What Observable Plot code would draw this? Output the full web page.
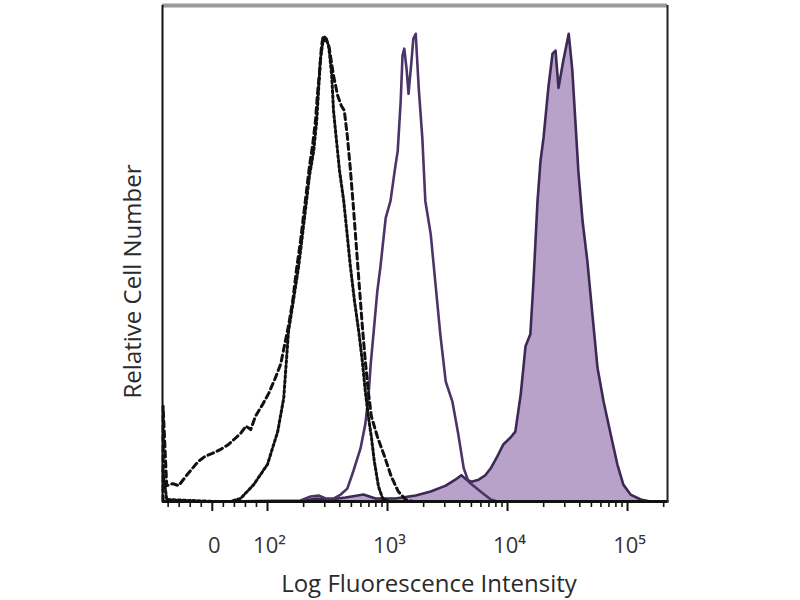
<!DOCTYPE html>
<html>
<head>
<meta charset="utf-8">
<script src="https://cdn.jsdelivr.net/npm/d3@7"></script>
<script src="https://cdn.jsdelivr.net/npm/@observablehq/plot@0.6"></script>
<style>
  html, body { margin: 0; padding: 0; background: #fff; }
  #chart { width: 800px; height: 600px; }
</style>
</head>
<body>
<div id="chart"></div>
<script>
// x values are axis positions in decades (log10 of intensity; linear below 10^2), y = % of max count
const dashedPos = [1.13,1.13,1.16,1.21,1.26,1.32,1.375,1.425,1.48,1.54,1.61,1.675,1.73,1.775,1.82,1.86,1.90,1.96,2.01,2.06,2.11,2.14,2.175,2.21,2.24,2.275,2.30,2.325,2.35,2.375,2.40,2.415,2.435,2.45,2.465,2.49,2.515,2.55,2.585,2.615,2.64,2.665,2.69,2.715,2.74,2.765,2.79,2.815,2.84,2.865,2.915,2.975,3.03,3.09,3.15,3.21,3.4];
const dashedCount = [0,19.2,3.2,3.6,3.2,5.1,6.7,8.1,9.1,9.7,10.5,11.5,12.7,13.7,15.2,14.5,17.2,19.6,21.8,24.6,27.7,31.3,35.4,40.4,46.5,52.5,57.6,62.6,67.7,71.7,76.8,81.8,86.9,91.9,93.9,93.3,91.3,85.9,81.8,79.8,78.8,73.7,67.1,59.6,51.5,43.4,35.4,28.3,22.2,17.2,13.1,9.1,5.1,2.0,0.4,0,0];

const dottedPos = [1.13,1.16,1.36,1.57,1.69,1.775,1.885,2.0,2.085,2.135,2.175,2.215,2.26,2.29,2.325,2.35,2.385,2.41,2.425,2.44,2.46,2.485,2.51,2.535,2.55,2.575,2.60,2.635,2.665,2.69,2.725,2.76,2.79,2.815,2.84,2.865,2.89,2.925,2.96,3.01,3.3];
const dottedCount = [6.1,0.4,0.2,0,0,0.6,3.4,7.5,14.1,20.8,34.3,40.4,47.5,53.5,60.6,65.7,70.7,76.8,82.8,88.9,92.5,93.3,91.9,85.9,78.8,72.7,66.7,60.6,53.5,47.5,40.4,34.3,28.3,22.2,17.2,13.1,8.1,3.0,0.6,0,0];

const stainedPos = [1.13,1.69,2.275,2.36,2.425,2.485,2.55,2.61,2.665,2.715,2.775,2.815,2.84,2.86,2.885,2.915,2.94,2.985,3.025,3.06,3.085,3.11,3.125,3.14,3.16,3.175,3.2,3.215,3.235,3.26,3.29,3.315,3.36,3.40,3.44,3.485,3.54,3.59,3.635,3.675,3.775,3.86,3.915,5.333];
const stainedCount = [0,0,0.2,1.0,1.2,0.6,0.6,1.4,2.6,6.1,10.7,15.6,20.8,27.7,34.3,42.4,47.1,57.2,60.6,66.7,70.7,80.8,89.9,91.3,86.9,82.2,88.9,93.3,94.3,83.4,73.3,60.6,53.9,43.8,33.7,24.2,20.2,13.5,6.7,4.0,2.0,0.4,0,0];

const brightPos = [1.13,2.275,2.4,2.525,2.65,2.8,2.9,3.065,3.235,3.36,3.485,3.565,3.615,3.66,3.70,3.76,3.815,3.86,3.915,3.965,4.025,4.065,4.11,4.15,4.19,4.215,4.25,4.275,4.30,4.34,4.375,4.40,4.425,4.465,4.51,4.54,4.565,4.59,4.625,4.665,4.71,4.75,4.80,4.86,4.915,4.965,5.025,5.11,5.19,5.333];
const brightCount = [0,0,0.6,0.4,0.8,1.4,0.6,0.6,1.2,2.0,3.2,4.4,5.3,4.4,4.0,4.4,5.3,6.7,9.1,11.5,12.9,14.1,21.6,31.3,33.7,43.8,60.6,68.7,73.3,83.4,90.3,90.9,83.4,88.9,94.3,86.9,76.8,66.7,56.6,48.5,37.0,26.9,20.2,13.5,7.5,3.4,1.4,0.4,0,0];

// axis ticks (intensity values) and labels
const majorValues = [0, 100, 1000, 10000, 100000];
const majorLabels = ["0", "10²", "10³", "10⁴", "10⁵"];
const minorValues = [-80,-60,-40,-20,20,40,60,80,
  200,300,400,500,600,700,800,900,
  2000,3000,4000,5000,6000,7000,8000,9000,
  20000,30000,40000,50000,60000,70000,80000,90000,
  200000];

// display transform: linear near zero, logarithmic from 10^2
const toPos = v => v >= 100 ? Math.log10(v) : 2 - (100 - v) * 0.0046;

const zip = (xs, ys) => xs.map((x, i) => ({x, y: ys[i]}));
const dashed = zip(dashedPos, dashedCount);
const dotted = zip(dottedPos, dottedCount);
const stained = zip(stainedPos, stainedCount);
const bright = zip(brightPos, brightCount);

const majorPos = majorValues.map(toPos);
const minorPos = minorValues.map(toPos);
const tickLabels = majorPos.map((p, i) => ({x: p, label: majorLabels[i]}));

const font = "'Open Sans', 'Noto Sans', sans-serif";

const chart = Plot.plot({
  width: 800,
  height: 600,
  marginLeft: 162,
  marginRight: 133,
  marginTop: 5,
  marginBottom: 99,
  style: {fontFamily: font, background: "#fff", overflow: "visible"},
  x: {domain: [1.125, 5.333], label: null},
  y: {domain: [0, 100], axis: null},
  marks: [
    Plot.areaY(bright, {x: "x", y: "y", fill: "#b9a2c9"}),
    Plot.line(bright, {x: "x", y: "y", stroke: "#3d2956", strokeWidth: 2.6}),
    Plot.line(stained, {x: "x", y: "y", stroke: "#4b3468", strokeWidth: 2.6}),
    Plot.line(dotted, {x: "x", y: "y", stroke: "#111", strokeWidth: 3, strokeDasharray: "2.5,2.5"}),
    Plot.line(dashed, {x: "x", y: "y", stroke: "#111", strokeWidth: 3, strokeDasharray: "6,4"}),
    Plot.ruleY([100], {stroke: "#9a9a9a", strokeWidth: 4}),
    Plot.ruleX([1.125], {stroke: "#111", strokeWidth: 2}),
    Plot.ruleX([5.333], {stroke: "#222", strokeWidth: 2}),
    Plot.ruleY([0], {stroke: "#111", strokeWidth: 3}),
    Plot.axisX({ticks: minorPos, tickSize: 6, tickFormat: () => "", label: null, stroke: "#111", strokeWidth: 1.6}),
    Plot.axisX({ticks: majorPos, tickSize: 10, tickFormat: () => "", label: null, stroke: "#111", strokeWidth: 2}),
    Plot.text(tickLabels, {x: "x", text: "label", frameAnchor: "bottom", dy: 44, dx: 2,
      fontSize: 22, fill: "#333", lineAnchor: "middle", textAnchor: "middle"}),
    Plot.text(["Log Fluorescence Intensity"], {frameAnchor: "bottom", dx: 14, dy: 83,
      fontSize: 24, fill: "#2a2a2a", lineAnchor: "middle", textAnchor: "middle"}),
    Plot.text(["Relative Cell Number"], {frameAnchor: "left", dx: -29, dy: 28, rotate: -90,
      fontSize: 24, fill: "#2a2a2a", lineAnchor: "middle", textAnchor: "middle"})
  ]
});
document.getElementById("chart").appendChild(chart);
</script>
</body>
</html>
